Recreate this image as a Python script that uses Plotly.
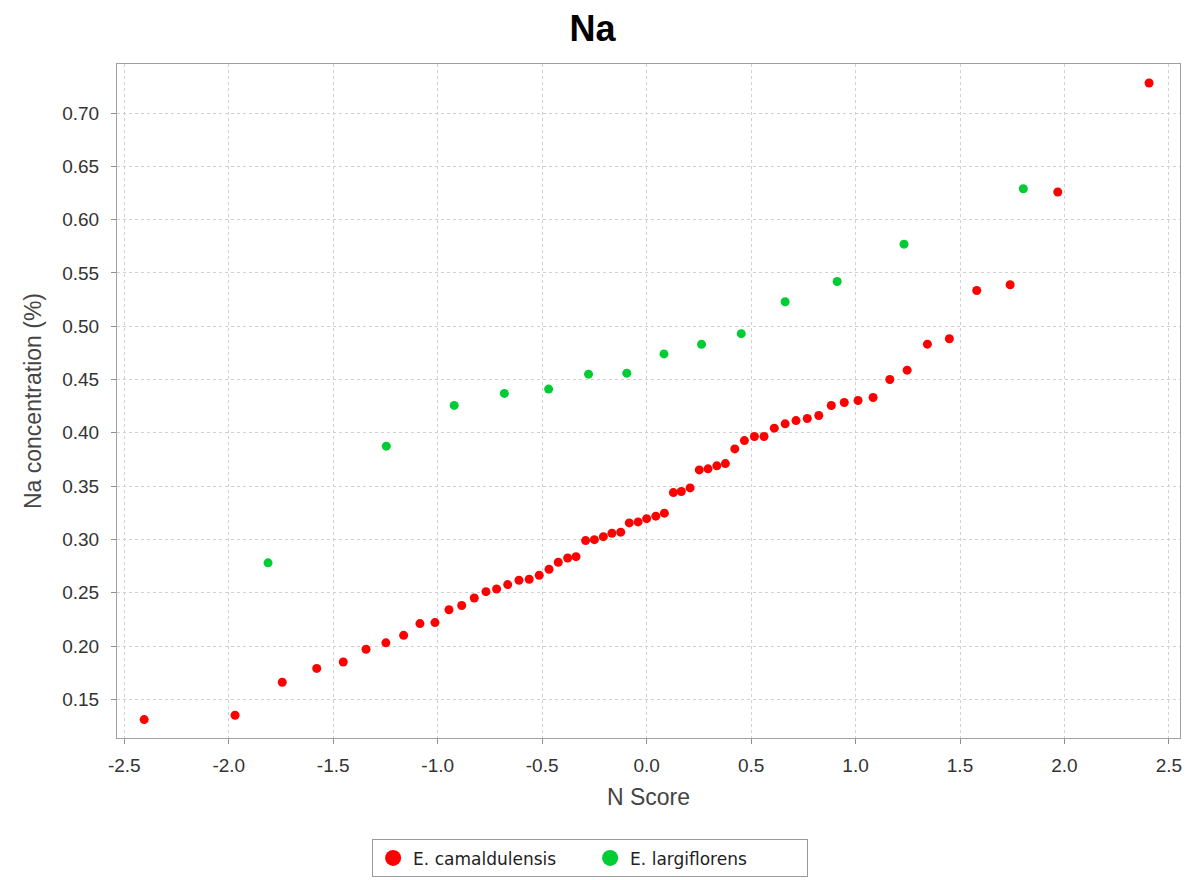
import plotly.graph_objects as go

# E. camaldulensis (red)
cam_x = [-2.405, -1.970, -1.744, -1.579, -1.452, -1.343, -1.248, -1.163, -1.085, -1.013,
         -0.946, -0.885, -0.825, -0.769, -0.718, -0.665, -0.611, -0.562, -0.514, -0.467,
         -0.423, -0.378, -0.338, -0.292, -0.250, -0.207, -0.166, -0.124, -0.083, -0.041,
         0.000, 0.044, 0.085, 0.128, 0.166, 0.208, 0.252, 0.294, 0.336, 0.377,
         0.422, 0.468, 0.516, 0.562, 0.611, 0.663, 0.715, 0.769, 0.824, 0.884,
         0.946, 1.012, 1.084, 1.164, 1.247, 1.344, 1.449, 1.580, 1.740, 1.968, 2.405]
cam_y = [0.131, 0.135, 0.166, 0.179, 0.185, 0.197, 0.203, 0.210, 0.221, 0.222,
         0.234, 0.238, 0.245, 0.251, 0.2535, 0.2576, 0.2617, 0.2626, 0.2664, 0.272,
         0.2786, 0.2826, 0.2838, 0.2989, 0.2998, 0.3026, 0.3058, 0.3068, 0.3155, 0.3164,
         0.3195, 0.3218, 0.3246, 0.3439, 0.3449, 0.3483, 0.3652, 0.3662, 0.369, 0.3711,
         0.3849, 0.3927, 0.3965, 0.3965, 0.4044, 0.4084, 0.4115, 0.4134, 0.4162, 0.4256,
         0.4284, 0.4303, 0.4331, 0.450, 0.4588, 0.4832, 0.4882, 0.5335, 0.5389, 0.6259, 0.7282]

# E. largiflorens (green)
lar_x = [-1.812, -1.246, -0.921, -0.681, -0.469, -0.278, -0.095,
         0.083, 0.263, 0.453, 0.663, 0.912, 1.232, 1.803]
lar_y = [0.278, 0.3875, 0.4257, 0.437, 0.441, 0.455, 0.456,
         0.474, 0.483, 0.493, 0.523, 0.542, 0.577, 0.629]

series_names = ["E. camaldulensis", "E. largiflorens"]
series_colors = ["#ff0000", "#00cc33"]

x_ticks = [-2.5, -2.0, -1.5, -1.0, -0.5, 0.0, 0.5, 1.0, 1.5, 2.0, 2.5]
y_ticks = [0.15, 0.20, 0.25, 0.30, 0.35, 0.40, 0.45, 0.50, 0.55, 0.60, 0.65, 0.70]

FONT = "Liberation Sans, Arial, sans-serif"

fig = go.Figure()
for xs, ys, name, col in [(cam_x, cam_y, series_names[0], series_colors[0]),
                          (lar_x, lar_y, series_names[1], series_colors[1])]:
    fig.add_trace(go.Scatter(x=xs, y=ys, mode="markers", name=name, showlegend=False,
                             marker=dict(color=col, size=9, line=dict(width=0))))
# legend entries with larger symbols
for name, col in zip(series_names, series_colors):
    fig.add_trace(go.Scatter(x=[None], y=[None], mode="markers", name=name,
                             marker=dict(color=col, size=16, line=dict(width=0))))

axis_common = dict(
    showline=True, mirror=True, linecolor="#a0a0a0", linewidth=1,
    showgrid=True, gridcolor="#d0d0d0", gridwidth=1, griddash="3px,3px",
    ticks="outside", ticklen=5, tickcolor="#909090",
    tickfont=dict(family=FONT, size=19, color="#333333"),
    zeroline=False,
)

fig.update_layout(
    width=1197, height=880,
    margin=dict(l=117, r=17, t=64, b=142),
    paper_bgcolor="white", plot_bgcolor="white",
    title=dict(text="<b>Na</b>", x=0.495, xref="container", xanchor="center",
               y=0.968, yref="container", yanchor="middle",
               font=dict(family=FONT, size=36, color="black")),
    xaxis=dict(range=[-2.535, 2.553], tickvals=x_ticks,
               ticktext=[f"{v:.1f}" for v in x_ticks], ticklabelstandoff=5,
               title=dict(text="N Score", standoff=14,
                          font=dict(family=FONT, size=23, color="#444444")),
               **axis_common),
    yaxis=dict(range=[0.1137, 0.746], tickvals=y_ticks,
               ticktext=[f"{v:.2f}" for v in y_ticks], ticklabelstandoff=8,
               title=dict(text="Na concentration (%)", standoff=14,
                          font=dict(family=FONT, size=23, color="#444444")),
               **axis_common),
    legend=dict(orientation="h", x=0.493, xref="container", xanchor="center",
                y=0.003, yref="container", yanchor="bottom",
                bordercolor="#999999", borderwidth=1, bgcolor="white",
                font=dict(family="DejaVu Sans, sans-serif", size=17, color="#222222"),
                itemsizing="trace", itemwidth=30, entrywidth=172, entrywidthmode="pixels",
                tracegroupgap=0),
    showlegend=True,
)

fig.write_html("out.html")
